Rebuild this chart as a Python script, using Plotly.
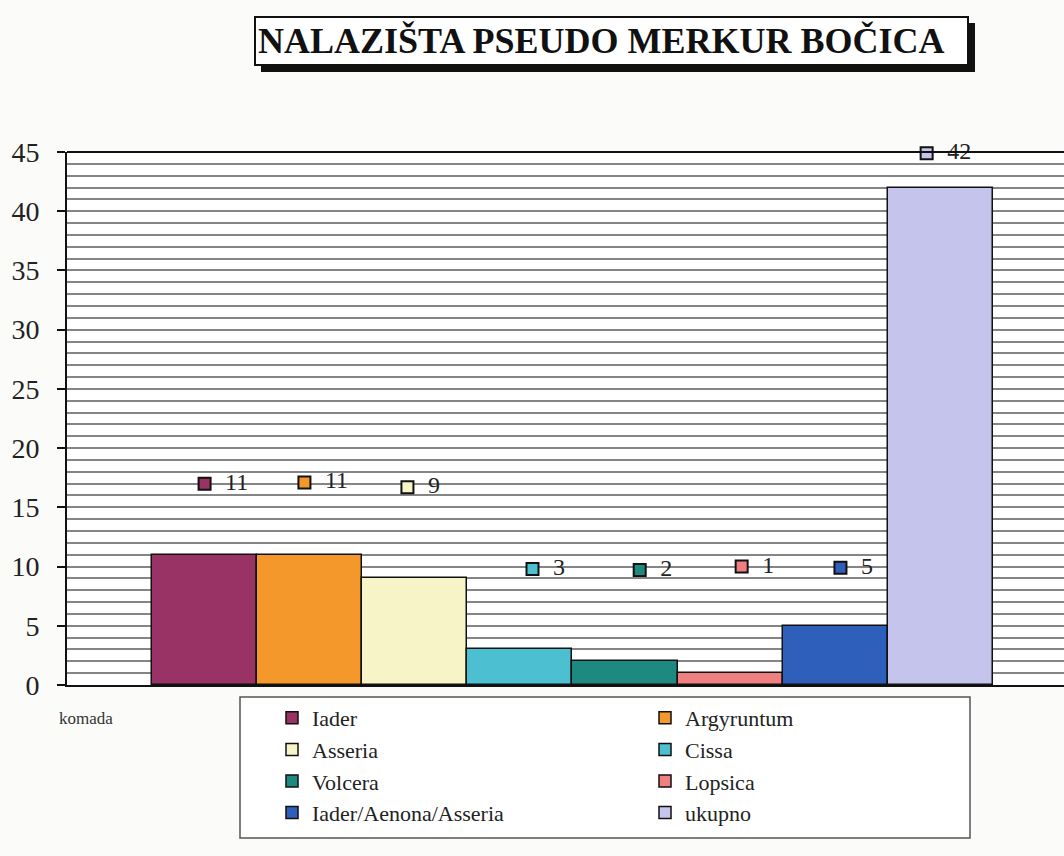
import plotly.graph_objects as go

# Number of pseudo-Mercury bottles per site
sites = ["Iader", "Argyruntum", "Asseria", "Cissa", "Volcera", "Lopsica",
         "Iader/Aenona/Asseria", "ukupno"]
counts = [11, 11, 9, 3, 2, 1, 5, 42]
colors = ["#993366", "#f4982c", "#f7f5c8", "#4cc0d0", "#1c8a80", "#f08080",
          "#2e5fba", "#c4c4ec"]

# Where each value label (legend key + number) sits, in axis units
label_y = [17.0, 17.1, 16.7, 9.8, 9.7, 10.0, 9.9, 44.9]
label_dx = [0.0, -0.05, -0.07, 0.12, 0.14, 0.11, 0.05, -0.13]

W, H = 1064, 856
L, R, T, B = 67, 0, 152, 171
PW, PH = W - L - R, H - T - B


def px_x(px):
    return (px - L) / PW


def px_y(py):
    return (H - B - py) / PH


serif = "Liberation Serif"
fig = go.Figure()

for i, (name, v, c) in enumerate(zip(sites, counts, colors)):
    fig.add_trace(go.Bar(
        x=[i], y=[v], width=1, name=name,
        marker=dict(color=c, line=dict(color="#111111", width=1.5)),
    ))

for i, (v, c) in enumerate(zip(counts, colors)):
    fig.add_trace(go.Scatter(
        x=[i + label_dx[i]], y=[label_y[i]], mode="markers+text",
        text=["\u2002" + str(v)], textposition="middle right",
        textfont=dict(family=serif, size=24, color="#222222"),
        marker=dict(symbol="square", size=12, color=c,
                    line=dict(color="#111111", width=2)),
        showlegend=False, hoverinfo="skip", cliponaxis=False,
    ))

grid = "#858585"
fig.update_layout(
    template="none",
    font=dict(family=serif, color="#222222"),
    width=W, height=H,
    margin=dict(l=L, r=R, t=T, b=B, pad=0),
    paper_bgcolor="#fbfbfa", plot_bgcolor="#ffffff",
    barmode="overlay", bargap=0,
    showlegend=True,
    legend=dict(
        orientation="h", x=px_x(272), xanchor="left", y=px_y(697),
        yanchor="top", bgcolor="rgba(0,0,0,0)", borderwidth=0,
        entrywidth=328, entrywidthmode="pixels",
        font=dict(family=serif, size=22, color="#222222"),
        traceorder="normal",
    ),
    xaxis=dict(range=[-1.309, 8.177], showticklabels=False, ticks="",
               showgrid=False, zeroline=False, showline=True,
               linecolor="#111111", linewidth=2, fixedrange=True),
    yaxis=dict(range=[0, 45], dtick=5, tick0=0, ticks="outside", ticklen=8,
               tickcolor="#111111", tickwidth=1.5, showline=True,
               linecolor="#111111", linewidth=2, zeroline=False,
               showgrid=True, gridcolor=grid, gridwidth=2,
               minor=dict(dtick=1, showgrid=True, gridcolor=grid, gridwidth=2),
               tickfont=dict(family=serif, size=28, color="#222222"),
               ticklabelstandoff=12),
)

# Top border of the plot area
fig.add_shape(type="line", xref="paper", yref="paper", x0=0, x1=1, y0=1, y1=1,
              line=dict(color="#111111", width=2))

# Legend frame
fig.add_shape(type="rect", xref="paper", yref="paper",
              x0=px_x(240), x1=px_x(970), y0=px_y(697), y1=px_y(838),
              fillcolor="#ffffff", line=dict(color="#555555", width=1.5),
              layer="below")

# Title box with drop shadow
fig.add_shape(type="rect", xref="paper", yref="paper",
              x0=px_x(261), x1=px_x(975), y0=px_y(23), y1=px_y(72),
              fillcolor="#111111", line=dict(width=0), layer="above")
fig.add_shape(type="rect", xref="paper", yref="paper",
              x0=px_x(255), x1=px_x(968), y0=px_y(17), y1=px_y(65),
              fillcolor="#ffffff", line=dict(color="#111111", width=2),
              layer="above")
fig.add_annotation(
    text="<b>NALAZIŠTA PSEUDO MERKUR BOČICA</b>", xref="paper", yref="paper",
    x=px_x(601), y=px_y(41), xanchor="center", yanchor="middle",
    showarrow=False, font=dict(family=serif, size=36, color="#111111"))

fig.add_annotation(
    text="komada", xref="paper", yref="paper", x=px_x(86), y=px_y(718),
    xanchor="center", yanchor="middle", showarrow=False,
    font=dict(family=serif, size=17, color="#333333"))

fig.write_html("out.html")
